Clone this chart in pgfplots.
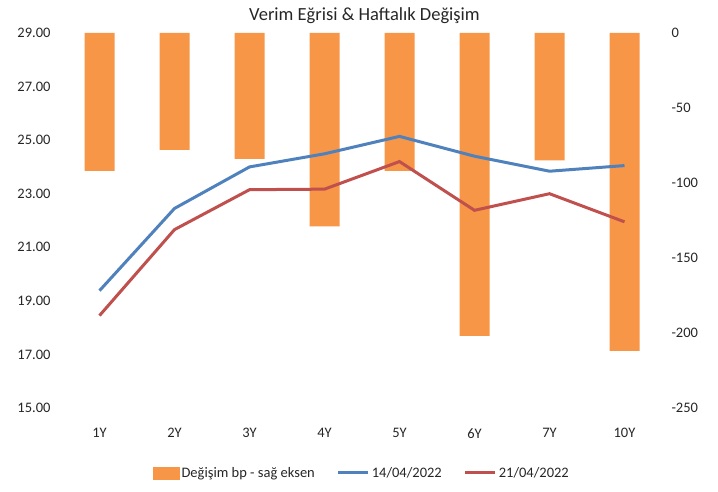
\documentclass[border=0pt]{standalone}
\usepackage{fontspec}
\setmainfont{Carlito}
\usepackage{pgfplots}
\pgfplotsset{compat=1.18}
\definecolor{barOr}{HTML}{F79646}
\definecolor{lnBlue}{HTML}{4F81BD}
\definecolor{lnRed}{HTML}{C0504D}
\begin{document}
\begin{tikzpicture}[x=1pt,y=1pt]
\useasboundingbox (0,0) rectangle (718,492);
\node[font=\fontsize{18.5}{21}\selectfont, text=black!85] at (364.5,476) {Verim Eğrisi \& Haftalık Değişim};
\begin{axis}[
  at={(62pt,84pt)}, anchor=south west, scale only axis,
  width=600pt, height=375pt,
  xmin=-0.5, xmax=7.5, ymin=-250, ymax=0,
  axis y line*=right, axis x line=none,
  axis line style={draw=none},
  major tick length=0pt,
  ytick={-250,-200,-150,-100,-50,0},
  yticklabel style={font=\fontsize{14.5}{16}\selectfont, anchor=west, xshift=6pt, text=black!85},
  /pgf/number format/assume math mode=true,
  ybar, bar width=30pt,
]
\addplot[fill=barOr, draw=none] coordinates {(0,-92) (1,-78) (2,-84) (3,-129) (4,-92) (5,-202) (6,-85) (7,-212)};
\end{axis}
\begin{axis}[
  at={(62pt,84pt)}, anchor=south west, scale only axis,
  width=600pt, height=375pt,
  xmin=-0.5, xmax=7.5, ymin=15, ymax=29,
  axis line style={draw=none},
  major tick length=0pt,
  ytick={15,17,...,29},
  xtick={0,...,7},
  xticklabels={1Y,2Y,3Y,4Y,5Y,6Y,7Y,10Y},
  /pgf/number format/assume math mode=true,
  yticklabel style={font=\fontsize{14.5}{16}\selectfont, /pgf/number format/.cd, fixed, fixed zerofill, precision=2, /tikz/.cd, xshift=-8pt, text=black!85},
  xticklabel style={font=\fontsize{14.5}{16}\selectfont, yshift=-17pt, text=black!85},
  legend image code/.code={\draw[#1] (0pt,0pt) -- (30pt,0pt);},
  legend columns=3,
  legend style={at={(0.5,-0.173)}, anchor=center, draw=none, fill=none,
    font=\fontsize{14.5}{16}\selectfont, text=black!85,
    /tikz/every odd column/.append style={column sep=0pt},
    /tikz/every even column/.append style={column sep=20pt}},
]
\addlegendimage{legend image code/.code={\fill[barOr] (0pt,-6pt) rectangle (26pt,6pt);}}
\addlegendentry{Değişim bp - sağ eksen}
\addplot[lnBlue, line width=3pt] coordinates {(0,19.38) (1,22.45) (2,24.0) (3,24.49) (4,25.14) (5,24.40) (6,23.84) (7,24.05)};
\addlegendentry{14/04/2022}
\addplot[lnRed, line width=3pt] coordinates {(0,18.45) (1,21.66) (2,23.15) (3,23.17) (4,24.20) (5,22.38) (6,23.0) (7,21.95)};
\addlegendentry{21/04/2022}
\end{axis}
\end{tikzpicture}
\end{document}
